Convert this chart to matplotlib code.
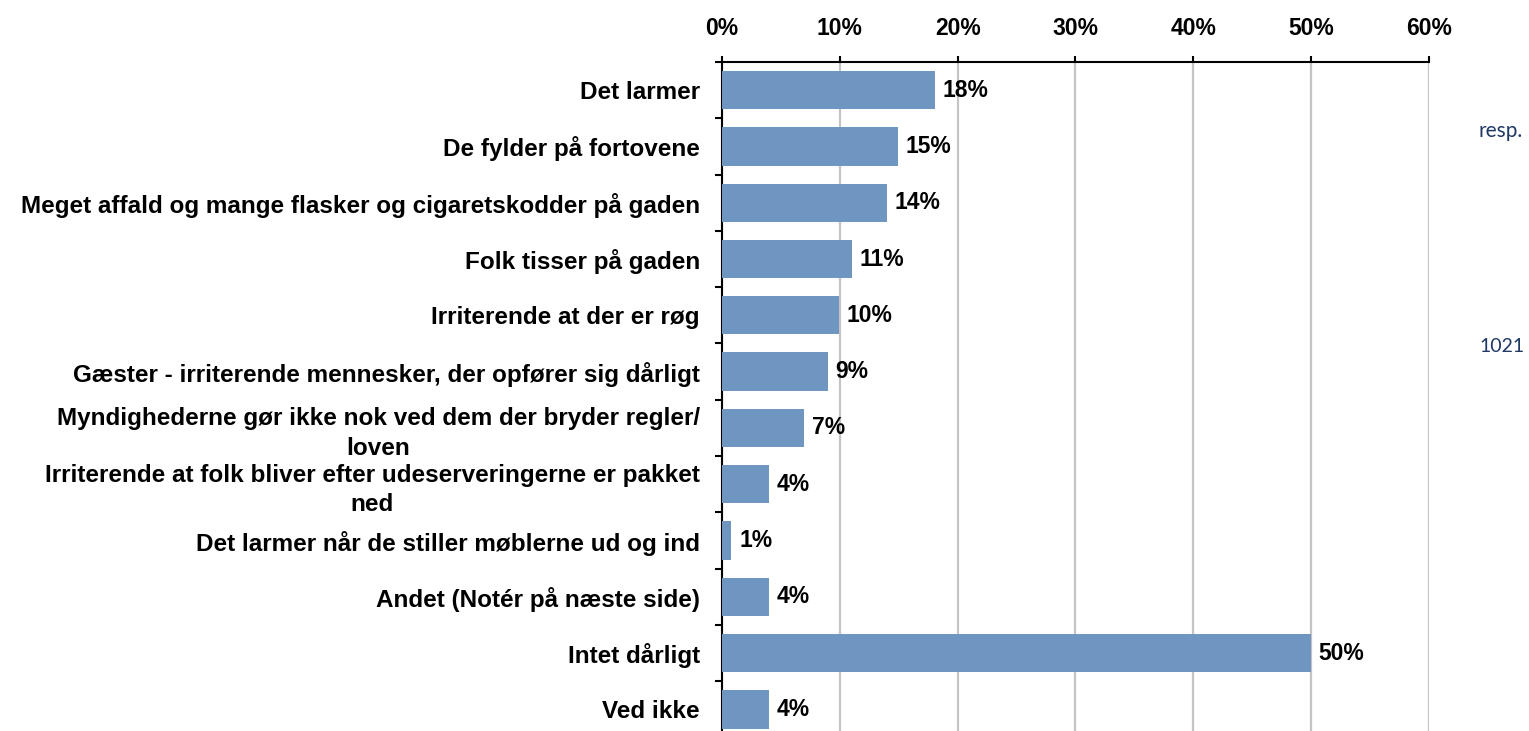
import numpy as np
import matplotlib
matplotlib.use("Agg")
import matplotlib.pyplot as plt
from matplotlib.ticker import FixedLocator, PercentFormatter

# Data
kategorier = [
    "Det larmer",
    "De fylder på fortovene",
    "Meget affald og mange flasker og cigaretskodder på gaden",
    "Folk tisser på gaden",
    "Irriterende at der er røg",
    "Gæster - irriterende mennesker, der opfører sig dårligt",
    "Myndighederne gør ikke nok ved dem der bryder regler/\nloven",
    "Irriterende at folk bliver efter udeserveringerne er pakket\nned",
    "Det larmer når de stiller møblerne ud og ind",
    "Andet (Notér på næste side)",
    "Intet dårligt",
    "Ved ikke",
]
andel = [18.1, 14.9, 14.0, 11.0, 9.9, 9.0, 7.0, 4.0, 0.8, 4.0, 50.0, 4.0]
etiketter = ["18%", "15%", "14%", "11%", "10%", "9%", "7%", "4%", "1%", "4%", "50%", "4%"]
xticks = [0, 10, 20, 30, 40, 50, 60]

plt.rcParams['font.family'] = ['Liberation Sans', 'DejaVu Sans']

fig = plt.figure(figsize=(15.29, 7.31), dpi=100)
ax = fig.add_axes([0.4722, -0.009, 0.4624, 0.9242])

y = np.arange(len(kategorier))
ax.barh(y, andel, height=0.68, color='#6E96C0', zorder=3)

for yi, v, lab in zip(y, andel, etiketter):
    ax.annotate(lab, (v, yi), xytext=(5.5, 0), textcoords='offset points',
                va='center', ha='left', fontsize=16.5, fontweight='bold')

ax.set_xlim(0, 60)
ax.set_ylim(len(kategorier) - 0.5, -0.5)

ax.xaxis.tick_top()
ax.set_xticks(xticks)
ax.xaxis.set_major_formatter(PercentFormatter(decimals=0))
ax.tick_params(axis='x', which='major', direction='out', length=4, width=1.5,
               pad=11.5, labelsize=16.5)
for t in ax.get_xticklabels():
    t.set_fontweight('bold')

ax.set_yticks(y)
ax.set_yticklabels(kategorier, fontsize=17.5, fontweight='bold', linespacing=1.35)
for t in ax.get_yticklabels():
    t.set_multialignment('center')
ax.tick_params(axis='y', which='major', length=0, pad=16)
ax.yaxis.set_minor_locator(FixedLocator(np.arange(-0.5, len(kategorier), 1)))
ax.tick_params(axis='y', which='minor', length=5, width=1.5, direction='out')

ax.grid(axis='x', color='#c4c4c4', linewidth=1.6, zorder=0)
ax.set_axisbelow(True)

for s in ['right', 'bottom']:
    ax.spines[s].set_visible(False)
ax.spines['top'].set_linewidth(1.5)
ax.spines['left'].set_linewidth(1.5)

fig.text(1523 / 1529, 1 - 131 / 731, "resp.", color='#1F3864', fontsize=15,
         family='Lato', va='center', ha='right')
fig.text(1525 / 1529, 1 - 347 / 731, "1021", color='#1F3864', fontsize=14,
         family='Lato', va='center', ha='right')

fig.savefig("out.png", dpi=100)
